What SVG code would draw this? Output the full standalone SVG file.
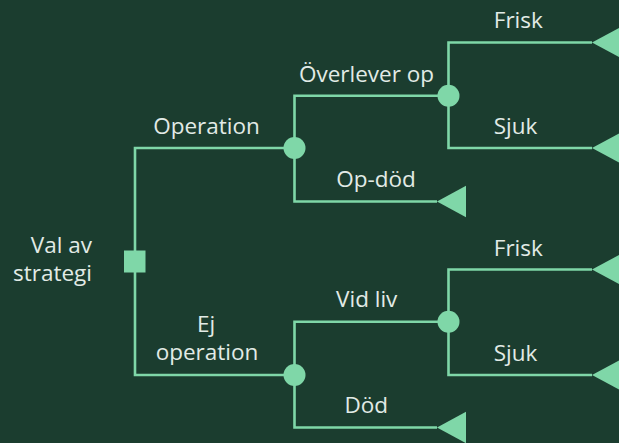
<svg xmlns="http://www.w3.org/2000/svg" width="619" height="443" viewBox="0 0 619 443">
<style>
.bg{fill:#1b3d2f}
.ln{fill:none;stroke:#7fd7a8;stroke-width:2.6}
.sh{fill:#7fd7a8}
.t{font-family:"Open Sans","Noto Sans","Liberation Sans",sans-serif;font-size:22.5px;fill:#e2ebe6;text-anchor:middle}
.te{text-anchor:end}
</style>
<defs>
<polygon id="tri" points="0,0 29,-15.7 29,15.7"/>
</defs>
<rect class="bg" x="0" y="0" width="619" height="443"/>
<g id="connectors">
<path class="ln" d="M294.5,148 H135 V375 H294.5"/>
<path class="ln" d="M437,201.5 H294.5 V95.7 H448.5"/>
<path class="ln" d="M592,42.5 H448.5 V148 H592"/>
<path class="ln" d="M437,427.5 H294.5 V321.7 H448.5"/>
<path class="ln" d="M592,269.5 H448.5 V375 H592"/>
</g>
<g id="decision">
<rect class="sh" x="124" y="250.5" width="21.5" height="22"/>
<text class="t te" x="92" y="252.5" font-size="22">Val av</text>
<text class="t te" x="92" y="281" font-size="22">strategi</text>
</g>
<g id="chance-op">
<circle class="sh" cx="294.5" cy="148" r="11"/>
<text class="t" x="206.5" y="134.3">Operation</text>
</g>
<g id="chance-surv">
<circle class="sh" cx="448.5" cy="95.7" r="11"/>
<text class="t" x="366.5" y="81.7">Överlever op</text>
</g>
<g id="end-opdod">
<use href="#tri" class="sh" x="437" y="201.5"/>
<text class="t" x="376" y="186.7">Op-död</text>
</g>
<g id="end-frisk1">
<use href="#tri" class="sh" x="592" y="42.5"/>
<text class="t" x="518.3" y="28.3">Frisk</text>
</g>
<g id="end-sjuk1">
<use href="#tri" class="sh" x="592" y="148"/>
<text class="t" x="515.5" y="134.3">Sjuk</text>
</g>
<g id="chance-ejop">
<circle class="sh" cx="294.5" cy="375" r="11"/>
<text class="t" x="206" y="331.7">Ej</text>
<text class="t" x="207" y="360">operation</text>
</g>
<g id="chance-vidliv">
<circle class="sh" cx="448.5" cy="321.7" r="11"/>
<text class="t" x="366.7" y="307.3">Vid liv</text>
</g>
<g id="end-dod">
<use href="#tri" class="sh" x="437" y="427.5"/>
<text class="t" x="366.3" y="412.7">Död</text>
</g>
<g id="end-frisk2">
<use href="#tri" class="sh" x="592" y="269.5"/>
<text class="t" x="518.3" y="255.5">Frisk</text>
</g>
<g id="end-sjuk2">
<use href="#tri" class="sh" x="592" y="375"/>
<text class="t" x="515.5" y="360.5">Sjuk</text>
</g>
</svg>
